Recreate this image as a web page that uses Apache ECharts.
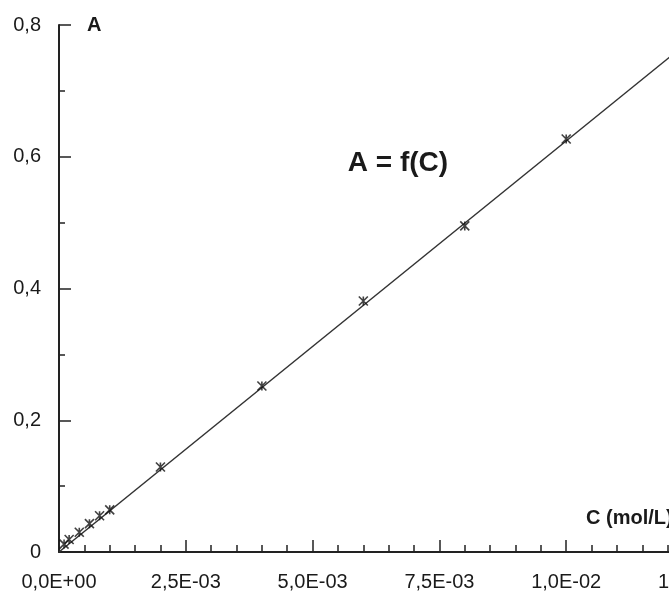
<!DOCTYPE html>
<html>
<head>
<meta charset="utf-8">
<script src="https://cdn.jsdelivr.net/npm/echarts@6/dist/echarts.min.js"></script>
<style>html,body{margin:0;padding:0;background:#fff;}#c{width:669px;height:594px;}</style>
</head>
<body>
<div id="c"></div>
<script>
// Measured points: concentration C (mol/L) and absorbance A
var concentrations = [0.0001, 0.0002, 0.0004, 0.0006, 0.0008, 0.001, 0.002, 0.004, 0.006, 0.008, 0.01];
var absorbances    = [0.012, 0.019, 0.030, 0.043, 0.055, 0.064, 0.129, 0.252, 0.381, 0.495, 0.627];
// Calibration line end points (C, A)
var fitC = [0, 0.0125];
var fitA = [0, 0.780];
var titleText = 'A = f(C)';
var xName = 'C (mol/L)';
var yName = 'A';

function fmtX(v) {
  var s = Number(v).toExponential(1); // e.g. 2.5e-3
  var parts = s.split('e');
  var mant = parts[0].replace('.', ',');
  var exp = parseInt(parts[1], 10);
  var sign = exp < 0 ? '-' : '+';
  var ae = Math.abs(exp);
  return mant + 'E' + sign + (ae < 10 ? '0' + ae : '' + ae);
}
function fmtY(v) {
  if (v === 0) return '0';
  return String(Math.round(v * 10) / 10).replace('.', ',');
}

var points = concentrations.map(function (c, i) { return [c, absorbances[i]]; });
var fitLine = fitC.map(function (c, i) { return [c, fitA[i]]; });

var chart = echarts.init(document.getElementById('c'), null, { renderer: 'canvas' });
var txt = '#1a1a1a';
chart.setOption({
  backgroundColor: '#ffffff',
  animation: false,
  title: [
    {
      text: titleText,
      left: 393, top: 144,
      textAlign: 'center',
      textStyle: { fontFamily: 'Liberation Sans', fontSize: 28, fontWeight: 'bold', color: txt }
    },
    {
      text: xName,
      left: 586, top: 508, padding: 0,
      textStyle: { fontFamily: 'Liberation Sans', fontSize: 20, fontWeight: 'bold', color: txt }
    }
  ],
  grid: { left: 59, width: 634, top: 25, bottom: 42, containLabel: false, outerBoundsMode: 'none' },
  xAxis: {
    type: 'value', min: 0, max: 0.0125, interval: 0.0025,
    axisLine: { show: true, lineStyle: { color: '#222', width: 2 } },
    axisTick: { show: true, inside: true, length: 12, lineStyle: { color: '#222', width: 1.5 } },
    minorTick: { show: true, splitNumber: 5, length: 7, lineStyle: { color: '#222', width: 1.5 } },
    splitLine: { show: false },
    axisLabel: { formatter: fmtX, margin: 20, fontFamily: 'Liberation Sans', fontSize: 20, color: txt,
      showMinLabel: true, showMaxLabel: true, hideOverlap: false }
  },
  yAxis: {
    type: 'value', min: 0, max: 0.8, interval: 0.2,
    name: yName, nameLocation: 'end', nameGap: 0,
    nameTextStyle: { fontFamily: 'Liberation Sans', fontSize: 20, fontWeight: 'bold', color: txt,
      align: 'left', verticalAlign: 'middle', padding: [0, 0, 0, 28] },
    axisLine: { show: true, lineStyle: { color: '#222', width: 2 } },
    axisTick: { show: true, inside: true, length: 12, lineStyle: { color: '#222', width: 1.5 } },
    minorTick: { show: true, splitNumber: 2, length: 6, lineStyle: { color: '#222', width: 1.5 } },
    splitLine: { show: false },
    axisLabel: { formatter: fmtY, margin: 18, fontFamily: 'Liberation Sans', fontSize: 20, color: txt }
  },
  series: [
    {
      type: 'line', data: fitLine, symbol: 'none', silent: true,
      lineStyle: { color: '#333', width: 1.5 }, clip: true, z: 2
    },
    {
      type: 'scatter', data: points,
      symbol: 'path://M0,0L10,10M10,0L0,10M5,0L5,10', symbolSize: 9,
      itemStyle: { color: 'none', borderColor: '#111', borderWidth: 1.6 },
      z: 3
    }
  ]
});
</script>
</body>
</html>
